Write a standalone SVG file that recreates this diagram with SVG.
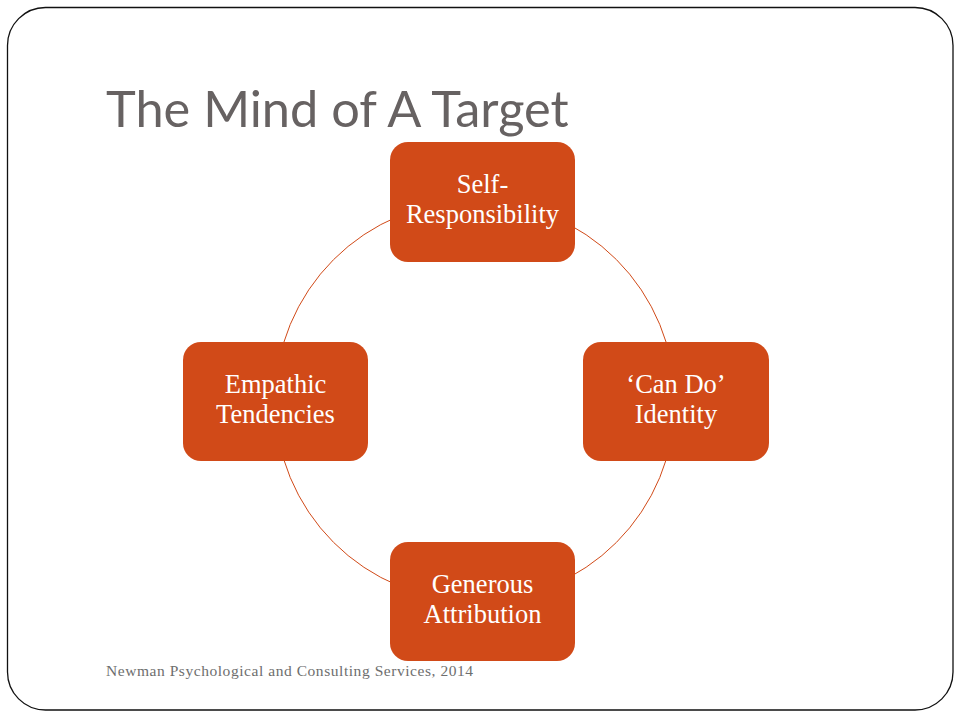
<svg xmlns="http://www.w3.org/2000/svg" width="960" height="720" viewBox="0 0 960 720">
  <style>
    .node rect { fill: #D14A18; }
    .node text { fill: #FFFFFF; font-family: "Liberation Serif", "DejaVu Serif", serif; font-size: 26.5px; text-anchor: middle; }
    .title { fill: #676262; font-family: "Lato", "Open Sans", "Liberation Sans", sans-serif; font-size: 50.5px; }
    .footer { fill: #6e6e6e; font-family: "Liberation Serif", "DejaVu Serif", serif; font-size: 15.5px; letter-spacing: 0.55px; }
  </style>
  <rect x="0" y="0" width="960" height="720" fill="#FFFFFF"/>
  <rect x="7.5" y="7.5" width="945.5" height="702.5" rx="38" ry="38" fill="none" stroke="#111111" stroke-width="1.3"/>
  <text class="title" x="106" y="127">The Mind of A Target</text>
  <g id="connectors">
    <circle cx="475" cy="401" r="200" fill="none" stroke="#D14A18" stroke-width="1"/>
  </g>
  <g id="node-self-responsibility" class="node">
    <rect x="390" y="142" width="185" height="120" rx="18" ry="18"/>
    <text x="482.5" y="193">Self-</text>
    <text x="482.5" y="223">Responsibility</text>
  </g>
  <g id="node-can-do-identity" class="node">
    <rect x="583" y="342" width="186" height="119" rx="18" ry="18"/>
    <text x="676" y="393">‘Can Do’</text>
    <text x="676" y="423">Identity</text>
  </g>
  <g id="node-generous-attribution" class="node">
    <rect x="390" y="542" width="185" height="119" rx="18" ry="18"/>
    <text x="482.5" y="593">Generous</text>
    <text x="482.5" y="623">Attribution</text>
  </g>
  <g id="node-empathic-tendencies" class="node">
    <rect x="183" y="342" width="185" height="119" rx="18" ry="18"/>
    <text x="275.5" y="393">Empathic</text>
    <text x="275.5" y="423">Tendencies</text>
  </g>
  <text class="footer" x="106" y="676">Newman Psychological and Consulting Services, 2014</text>
</svg>
